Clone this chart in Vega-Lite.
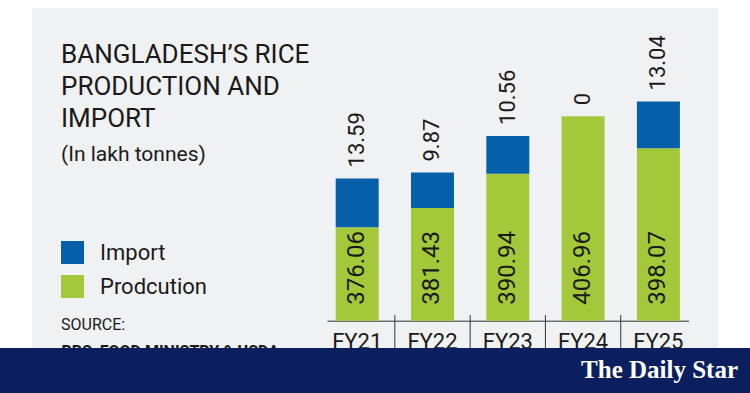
{
  "$schema": "https://vega.github.io/schema/vega-lite/v6.json",
  "background": "white",
  "padding": {"left": 0, "top": 8, "right": 0, "bottom": 0},
  "autosize": {"type": "pad"},
  "spacing": 0,
  "bounds": "flush",
  "center": true,
  "config": {"view": {"stroke": null}, "font": "Roboto"},
  "vconcat": [
    {
      "width": 686,
      "height": 340,
      "view": {"fill": "#f0f1f3", "stroke": null},
      "title": {
        "text": ["BANGLADESH’S RICE", "PRODUCTION AND", "IMPORT"],
        "subtitle": "(In lakh tonnes)",
        "orient": "top",
        "anchor": "start",
        "frame": "group",
        "offset": -157,
        "dx": 29,
        "font": "Roboto",
        "fontSize": 26,
        "fontWeight": "normal",
        "lineHeight": 32,
        "color": "#1a1a1a",
        "subtitleFont": "Roboto",
        "subtitleFontSize": 21,
        "subtitleColor": "#1a1a1a",
        "subtitlePadding": 12
      },
      "data": {
        "values": [
          {"year": "FY21", "type": "Prodcution", "value": 376.06},
          {"year": "FY21", "type": "Import", "value": 13.59},
          {"year": "FY22", "type": "Prodcution", "value": 381.43},
          {"year": "FY22", "type": "Import", "value": 9.87},
          {"year": "FY23", "type": "Prodcution", "value": 390.94},
          {"year": "FY23", "type": "Import", "value": 10.56},
          {"year": "FY24", "type": "Prodcution", "value": 406.96},
          {"year": "FY24", "type": "Import", "value": 0},
          {"year": "FY25", "type": "Prodcution", "value": 398.07},
          {"year": "FY25", "type": "Import", "value": 13.04}
        ]
      },
      "transform": [
        {"stack": "value", "groupby": ["year"], "sort": [{"field": "type", "order": "descending"}], "as": ["v0", "v1"]}
      ],
      "encoding": {
        "x": {
          "field": "year",
          "type": "nominal",
          "scale": {"range": [295, 656.6], "paddingInner": 0.429, "paddingOuter": 0.1155},
          "axis": {
            "title": "BBS, FOOD MINISTRY & USDA",
            "domain": true,
            "domainColor": "#333333",
            "domainWidth": 1,
            "ticks": false,
            "offset": -27.3,
            "labelAngle": 0,
            "labelFont": "Roboto",
            "labelFontSize": 22,
            "labelColor": "#1a1a1a",
            "labelPadding": 11,
            "titleX": 29,
            "titleY": 36,
            "titleAlign": "left",
            "titleAnchor": "start",
            "titleBaseline": "alphabetic",
            "titleFont": "Roboto",
            "titleFontSize": 16,
            "titleFontWeight": "bold",
            "titleColor": "#1a1a1a"
          }
        }
      },
      "layer": [
        {
          "transform": [{"filter": "datum.type === 'Prodcution'"}],
          "mark": {"type": "bar"},
          "encoding": {
            "y": {"field": "v1", "type": "quantitative", "scale": {"domain": [342.39, 437.15], "nice": false, "zero": false}, "axis": null},
            "y2": {"datum": 350},
            "color": {
              "field": "type",
              "type": "nominal",
              "scale": {"domain": ["Import", "Prodcution"], "range": ["#0660a9", "#a3c93a"]},
              "legend": {
                "orient": "none",
                "legendX": 61,
                "legendY": 233,
                "direction": "vertical",
                "symbolType": "square",
                "symbolSize": 529,
                "symbolStrokeWidth": 0,
                "symbolOpacity": 1,
                "labelFont": "Roboto",
                "labelFontSize": 22,
                "labelColor": "#1a1a1a",
                "labelOffset": 16,
                "rowPadding": 11,
                "title": "SOURCE:",
                "titleOrient": "bottom",
                "titleFont": "Roboto",
                "titleFontSize": 16,
                "titleFontWeight": "normal",
                "titleColor": "#1a1a1a",
                "titlePadding": 19,
                "titleAnchor": "start"
              }
            }
          }
        },
        {
          "transform": [{"filter": "datum.type === 'Import'"}],
          "mark": {"type": "bar"},
          "encoding": {
            "y": {"field": "v1", "type": "quantitative"},
            "y2": {"field": "v0"},
            "color": {"field": "type", "type": "nominal"}
          }
        },
        {
          "transform": [{"filter": "datum.type === 'Import'"}],
          "mark": {"type": "text", "angle": 270, "align": "left", "baseline": "middle", "dx": 11, "font": "Roboto", "fontSize": 22, "color": "#1a1a1a"},
          "encoding": {
            "y": {"field": "v1", "type": "quantitative"},
            "text": {"field": "value", "type": "quantitative", "format": ".4~r"}
          }
        },
        {
          "transform": [{"filter": "datum.type === 'Prodcution'"}],
          "mark": {"type": "text", "angle": 270, "align": "left", "baseline": "middle", "dx": 16, "font": "Roboto", "fontSize": 24, "color": "#1a1a1a"},
          "encoding": {
            "y": {"datum": 350},
            "text": {"field": "value", "type": "quantitative", "format": ".2f"}
          }
        },
        {
          "transform": [{"filter": "datum.type === 'Prodcution' && datum.year !== 'FY21'"}],
          "mark": {"type": "rule", "color": "#333333", "strokeWidth": 1},
          "encoding": {
            "x": {"field": "year", "type": "nominal", "bandPosition": -0.376},
            "y": {"datum": 351.59},
            "y2": {"datum": 342.4}
          }
        }
      ]
    },
    {
      "width": 750,
      "height": 45,
      "view": {"fill": "#0b1f5f", "stroke": null},
      "title": {
        "text": "The Daily Star",
        "orient": "bottom",
        "anchor": "end",
        "frame": "group",
        "offset": -35,
        "dx": -12,
        "font": "Liberation Serif",
        "fontSize": 25,
        "fontWeight": "bold",
        "color": "white"
      },
      "data": {"values": [{}]},
      "mark": {"type": "text"},
      "encoding": {"text": {"value": ""}}
    }
  ]
}
